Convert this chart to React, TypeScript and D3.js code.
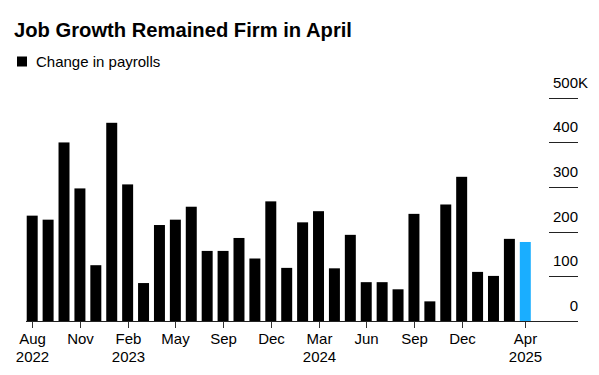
import React from "react";
import * as d3 from "d3";

const months = [
  "2022-09","2022-10","2022-11","2022-12",
  "2023-01","2023-02","2023-03","2023-04","2023-05","2023-06","2023-07","2023-08","2023-09","2023-10","2023-11","2023-12",
  "2024-01","2024-02","2024-03","2024-04","2024-05","2024-06","2024-07","2024-08","2024-09","2024-10","2024-11","2024-12",
  "2025-01","2025-02","2025-03","2025-04",
];
const payrolls = [
  236, 227, 400, 297, 125, 444, 306, 85, 215, 227, 256, 157, 157, 186, 140, 268,
  119, 221, 246, 118, 193, 87, 87, 71, 240, 44, 261, 323, 110, 101, 184, 177,
];
const highlightMonth = "2025-04";
const tickAt = ["2022-09","2022-12","2023-03","2023-06","2023-09","2023-12","2024-03","2024-06","2024-09","2024-12","2025-04"];
const tickMonths = ["Aug","Nov","Feb","May","Sep","Dec","Mar","Jun","Sep","Dec","Apr"];
const tickYears = ["2022","","2023","","","","2024","","","","2025"];
const yTicks = [0, 100, 200, 300, 400, 500];

const title = "Job Growth Remained Firm in April";
const legendLabel = "Change in payrolls";

const W = 599;
const H = 375;
const FONT = "'Liberation Sans', Arial, Helvetica, sans-serif";

export default function App() {
  const x = d3
    .scaleBand<string>()
    .domain(months)
    .range([24.25, 533.25])
    .paddingInner(0.31)
    .paddingOuter(0.155);
  const y = d3.scaleLinear().domain([0, 500]).range([321, 97.8]);
  const base = y(0);

  return (
    <div style={{ position: "absolute", left: 0, top: 0 }}>
      <svg width={W} height={H} style={{ display: "block", background: "#fff" }} fontFamily={FONT}>
        <text x={14} y={37} fontSize={20.2} fontWeight="bold" fill="#000">
          {title}
        </text>
        <rect x={17} y={56.5} width={10} height={10} fill="#000" />
        <text x={36} y={66.8} fontSize={15} fill="#000">
          {legendLabel}
        </text>

        {months.map((m, i) => (
          <rect
            key={m}
            x={x(m)}
            y={y(payrolls[i])}
            width={x.bandwidth()}
            height={base - y(payrolls[i])}
            fill={m === highlightMonth ? "#1AAEFF" : "#000"}
          />
        ))}

        {yTicks.map((v) => {
          const yy = Math.round(y(v)) + 0.5;
          return (
            <g key={v}>
              {v !== 0 && (
                <line x1={549} x2={578} y1={yy} y2={yy} stroke="#222" strokeWidth={1} />
              )}
              <text x={578} y={yy - 10.5} fontSize={15} textAnchor="end" fill="#000">
                {v}
              </text>
              {v === 500 && (
                <text x={578} y={yy - 10.5} fontSize={15} textAnchor="start" fill="#000">
                  K
                </text>
              )}
            </g>
          );
        })}

        <line x1={26} x2={578} y1={Math.round(base) + 0.5} y2={Math.round(base) + 0.5} stroke="#222" strokeWidth={1} />

        {tickAt.map((m, i) => {
          const cx = Math.round((x(m) as number) + x.bandwidth() / 2) + 0.5;
          return (
            <g key={m}>
              <line x1={cx} x2={cx} y1={base + 1} y2={base + 7} stroke="#333" strokeWidth={1} />
              <text x={cx} y={344} fontSize={15} textAnchor="middle" fill="#000">
                {tickMonths[i]}
              </text>
              {tickYears[i] && (
                <text x={cx} y={362} fontSize={15} textAnchor="middle" fill="#000">
                  {tickYears[i]}
                </text>
              )}
            </g>
          );
        })}
      </svg>
    </div>
  );
}
